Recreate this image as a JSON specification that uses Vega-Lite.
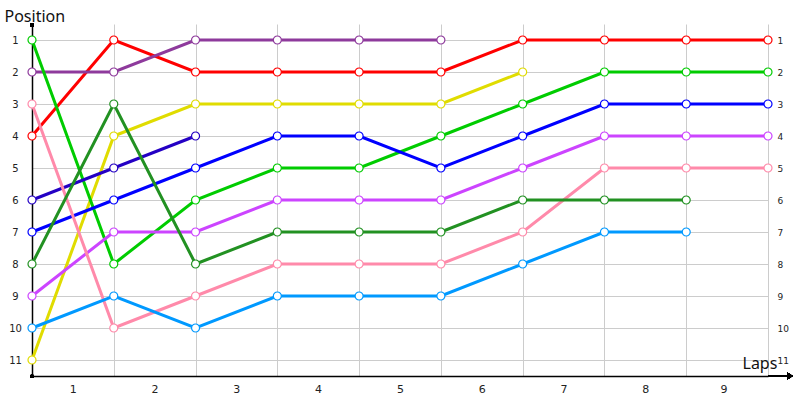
{
  "$schema": "https://vega.github.io/schema/vega-lite/v6.json",
  "width": 736,
  "height": 352,
  "autosize": "none",
  "padding": {"left": 32, "top": 24, "right": 32, "bottom": 24},
  "background": "white",
  "config": {"view": {"stroke": null}, "axis": {"labelFont": "DejaVu Sans", "titleFont": "Noto Sans", "labelColor": "#222222"}},
  "data": {"values": [
    {"driver": "Red", "lap": 0, "pos": 4}, {"driver": "Red", "lap": 1, "pos": 1}, {"driver": "Red", "lap": 2, "pos": 2}, {"driver": "Red", "lap": 3, "pos": 2}, {"driver": "Red", "lap": 4, "pos": 2}, {"driver": "Red", "lap": 5, "pos": 2}, {"driver": "Red", "lap": 6, "pos": 1}, {"driver": "Red", "lap": 7, "pos": 1}, {"driver": "Red", "lap": 8, "pos": 1}, {"driver": "Red", "lap": 9, "pos": 1},
    {"driver": "Purple", "lap": 0, "pos": 2}, {"driver": "Purple", "lap": 1, "pos": 2}, {"driver": "Purple", "lap": 2, "pos": 1}, {"driver": "Purple", "lap": 3, "pos": 1}, {"driver": "Purple", "lap": 4, "pos": 1}, {"driver": "Purple", "lap": 5, "pos": 1},
    {"driver": "Yellow", "lap": 0, "pos": 11}, {"driver": "Yellow", "lap": 1, "pos": 4}, {"driver": "Yellow", "lap": 2, "pos": 3}, {"driver": "Yellow", "lap": 3, "pos": 3}, {"driver": "Yellow", "lap": 4, "pos": 3}, {"driver": "Yellow", "lap": 5, "pos": 3}, {"driver": "Yellow", "lap": 6, "pos": 2},
    {"driver": "Green", "lap": 0, "pos": 1}, {"driver": "Green", "lap": 1, "pos": 8}, {"driver": "Green", "lap": 2, "pos": 6}, {"driver": "Green", "lap": 3, "pos": 5}, {"driver": "Green", "lap": 4, "pos": 5}, {"driver": "Green", "lap": 5, "pos": 4}, {"driver": "Green", "lap": 6, "pos": 3}, {"driver": "Green", "lap": 7, "pos": 2}, {"driver": "Green", "lap": 8, "pos": 2}, {"driver": "Green", "lap": 9, "pos": 2},
    {"driver": "Blue", "lap": 0, "pos": 7}, {"driver": "Blue", "lap": 1, "pos": 6}, {"driver": "Blue", "lap": 2, "pos": 5}, {"driver": "Blue", "lap": 3, "pos": 4}, {"driver": "Blue", "lap": 4, "pos": 4}, {"driver": "Blue", "lap": 5, "pos": 5}, {"driver": "Blue", "lap": 6, "pos": 4}, {"driver": "Blue", "lap": 7, "pos": 3}, {"driver": "Blue", "lap": 8, "pos": 3}, {"driver": "Blue", "lap": 9, "pos": 3},
    {"driver": "Navy", "lap": 0, "pos": 6}, {"driver": "Navy", "lap": 1, "pos": 5}, {"driver": "Navy", "lap": 2, "pos": 4},
    {"driver": "Violet", "lap": 0, "pos": 9}, {"driver": "Violet", "lap": 1, "pos": 7}, {"driver": "Violet", "lap": 2, "pos": 7}, {"driver": "Violet", "lap": 3, "pos": 6}, {"driver": "Violet", "lap": 4, "pos": 6}, {"driver": "Violet", "lap": 5, "pos": 6}, {"driver": "Violet", "lap": 6, "pos": 5}, {"driver": "Violet", "lap": 7, "pos": 4}, {"driver": "Violet", "lap": 8, "pos": 4}, {"driver": "Violet", "lap": 9, "pos": 4},
    {"driver": "Pink", "lap": 0, "pos": 3}, {"driver": "Pink", "lap": 1, "pos": 10}, {"driver": "Pink", "lap": 2, "pos": 9}, {"driver": "Pink", "lap": 3, "pos": 8}, {"driver": "Pink", "lap": 4, "pos": 8}, {"driver": "Pink", "lap": 5, "pos": 8}, {"driver": "Pink", "lap": 6, "pos": 7}, {"driver": "Pink", "lap": 7, "pos": 5}, {"driver": "Pink", "lap": 8, "pos": 5}, {"driver": "Pink", "lap": 9, "pos": 5},
    {"driver": "DarkGreen", "lap": 0, "pos": 8}, {"driver": "DarkGreen", "lap": 1, "pos": 3}, {"driver": "DarkGreen", "lap": 2, "pos": 8}, {"driver": "DarkGreen", "lap": 3, "pos": 7}, {"driver": "DarkGreen", "lap": 4, "pos": 7}, {"driver": "DarkGreen", "lap": 5, "pos": 7}, {"driver": "DarkGreen", "lap": 6, "pos": 6}, {"driver": "DarkGreen", "lap": 7, "pos": 6}, {"driver": "DarkGreen", "lap": 8, "pos": 6},
    {"driver": "LightBlue", "lap": 0, "pos": 10}, {"driver": "LightBlue", "lap": 1, "pos": 9}, {"driver": "LightBlue", "lap": 2, "pos": 10}, {"driver": "LightBlue", "lap": 3, "pos": 9}, {"driver": "LightBlue", "lap": 4, "pos": 9}, {"driver": "LightBlue", "lap": 5, "pos": 9}, {"driver": "LightBlue", "lap": 6, "pos": 8}, {"driver": "LightBlue", "lap": 7, "pos": 7}, {"driver": "LightBlue", "lap": 8, "pos": 7}
  ]},
  "resolve": {"axis": {"y": "independent"}},
  "layer": [
    {
      "mark": {"type": "line", "strokeWidth": 3},
      "encoding": {
        "x": {"field": "lap", "type": "quantitative", "scale": {"domain": [0, 9], "nice": false, "zero": false},
          "axis": {"values": [1, 2, 3, 4, 5, 6, 7, 8, 9], "format": "d", "grid": true, "gridColor": "#cccccc", "gridWidth": 1, "ticks": false, "domainColor": "#000000", "domainWidth": 1.5, "labelOffset": -41, "labelFontSize": 11, "labelPadding": 7, "labelFont": "DejaVu Sans",
            "title": "Laps", "titleFontSize": 16, "titleFontWeight": "normal", "titleColor": "#111111", "titleAlign": "left", "titleBaseline": "alphabetic", "titleAnchor": "start", "titleX": 710, "titleY": -8}},
        "y": {"field": "pos", "type": "quantitative", "scale": {"domain": [0.5, 11.5], "reverse": true, "nice": false, "zero": false},
          "axis": {"orient": "left", "values": [1, 2, 3, 4, 5, 6, 7, 8, 9, 10, 11], "format": "d", "grid": true, "gridColor": "#cccccc", "gridWidth": 1, "ticks": false, "domainColor": "#000000", "domainWidth": 1.5, "labelAlign": "center", "labelPadding": 17, "labelFontSize": 10,
            "title": "Position", "titleAngle": 0, "titleFontSize": 16, "titleFontWeight": "normal", "titleColor": "#111111", "titleAlign": "left", "titleBaseline": "alphabetic", "titleX": -28, "titleY": -3}},
        "color": {"field": "driver", "type": "nominal", "legend": null,
          "scale": {"domain": ["Red", "Purple", "Yellow", "Green", "Blue", "Navy", "Violet", "Pink", "DarkGreen", "LightBlue"],
            "range": ["#ff0000", "#8e3a9c", "#e0dc00", "#00cc00", "#0000ff", "#2400c4", "#cc44ff", "#ff8aaa", "#229122", "#0099ff"]}}
      }
    },
    {
      "mark": {"type": "point", "shape": "circle", "size": 64, "fill": "white", "filled": false, "opacity": 1, "strokeWidth": 1.2},
      "encoding": {
        "x": {"field": "lap", "type": "quantitative"},
        "y": {"field": "pos", "type": "quantitative",
          "axis": {"orient": "right", "values": [1, 2, 3, 4, 5, 6, 7, 8, 9, 10, 11], "format": "d", "grid": false, "ticks": false, "domain": false, "labelAlign": "left", "labelPadding": 9, "labelFontSize": 9, "title": null}},
        "color": {"field": "driver", "type": "nominal", "legend": null}
      }
    },
    {
      "mark": {"type": "rule", "color": "#000000", "strokeWidth": 1.5},
      "encoding": {"x": {"datum": 9}, "x2": {"datum": 9.27}, "y": {"datum": 11.5, "axis": null}}
    },
    {
      "mark": {"type": "point", "shape": "triangle-right", "size": 40, "filled": true, "color": "#000000", "opacity": 1},
      "encoding": {"x": {"datum": 9.27}, "y": {"datum": 11.5, "axis": null}}
    },
    {
      "mark": {"type": "point", "shape": "circle", "size": 14, "filled": true, "color": "#000000", "opacity": 1},
      "encoding": {"x": {"datum": 0}, "y": {"datum": 0.53, "axis": null}}
    },
    {
      "mark": {"type": "point", "shape": "circle", "size": 10, "filled": true, "color": "#000000", "opacity": 1},
      "encoding": {"x": {"datum": 0}, "y": {"datum": 11.5, "axis": null}}
    }
  ]
}
